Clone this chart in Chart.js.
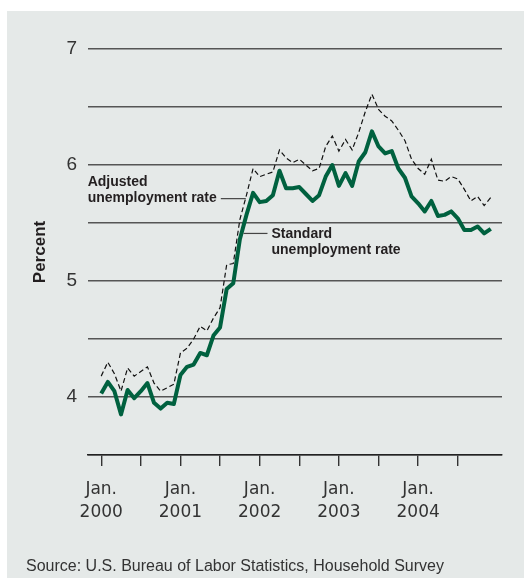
<!DOCTYPE html>
<html>
<head>
<meta charset="utf-8">
<script src="https://cdn.jsdelivr.net/npm/chart.js@4/dist/chart.umd.min.js"></script>
<style>
  html, body { margin: 0; padding: 0; background: #fff; }
  canvas { display: block; }
</style>
</head>
<body>
<canvas id="chart" width="524" height="578"></canvas>
<script>
// monthly values, Jan. 2000 .. Dec. 2004
const standardRate = [
    4.03, 4.13, 4.05, 3.85, 4.06, 3.99, 4.05, 4.12, 3.95, 3.90, 3.95, 3.94,
    4.19, 4.26, 4.28, 4.38, 4.36, 4.53, 4.60, 4.93, 4.98, 5.36, 5.57, 5.76,
    5.68, 5.69, 5.74, 5.95, 5.80, 5.80, 5.81, 5.75, 5.69, 5.74, 5.90, 6.00,
    5.82, 5.93, 5.82, 6.03, 6.11, 6.29, 6.16, 6.10, 6.12, 5.97, 5.89, 5.73,
    5.67, 5.60, 5.69, 5.56, 5.57, 5.60, 5.54, 5.44, 5.44, 5.47, 5.41, 5.45
];
const adjustedRate = [
    4.18, 4.30, 4.20, 4.05, 4.25, 4.18, 4.22, 4.26, 4.12, 4.05, 4.08, 4.11,
    4.38, 4.42, 4.50, 4.61, 4.57, 4.68, 4.77, 5.14, 5.15, 5.53, 5.74, 5.97,
    5.90, 5.92, 5.94, 6.13, 6.06, 6.02, 6.05, 6.00, 5.95, 5.97, 6.16, 6.25,
    6.12, 6.22, 6.13, 6.28, 6.46, 6.61, 6.48, 6.42, 6.38, 6.30, 6.21, 6.05,
    5.97, 5.92, 6.05, 5.87, 5.86, 5.90, 5.88, 5.79, 5.69, 5.73, 5.65, 5.72
];
const yearLabels = ["2000", "2001", "2002", "2003", "2004"];
const tickMonths = [0, 6, 12, 18, 24, 30, 36, 42, 48, 54];
const yTickLabels = [4, 5, 6, 7];
const sourceText = "Source: U.S. Bureau of Labor Statistics, Household Survey";

const FONT = "'Liberation Sans', Arial, sans-serif";
const AXIS_FONT = "'DejaVu Sans', sans-serif";
const GREEN = "#00613f";
const INK = "#231f20";

const toPoints = arr => arr.map((v, i) => ({ x: i, y: v }));

// panel background + texts outside the plot
const backdrop = {
    id: "backdrop",
    beforeDraw(chart) {
        const ctx = chart.ctx;
        ctx.save();
        ctx.fillStyle = "#ffffff";
        ctx.fillRect(0, 0, chart.width, chart.height);
        ctx.fillStyle = "#e5e9e8";
        ctx.fillRect(7, 11, chart.width - 7, chart.height - 11);
        ctx.restore();
    },
    afterDraw(chart) {
        const ctx = chart.ctx;
        const area = chart.chartArea;
        ctx.save();
        ctx.fillStyle = INK;
        ctx.font = "bold 17px " + FONT;
        ctx.textAlign = "center";
        ctx.textBaseline = "middle";
        ctx.translate(40, (area.top + area.bottom) / 2);
        ctx.rotate(-Math.PI / 2);
        ctx.fillText("Percent", 0, 0);
        ctx.restore();

        ctx.save();
        ctx.fillStyle = "#333";
        ctx.font = "16px " + FONT;
        ctx.textAlign = "left";
        ctx.textBaseline = "middle";
        ctx.fillText(sourceText, 26, 567);
        ctx.restore();
    }
};

// series labels with leader lines
const seriesLabels = {
    id: "seriesLabels",
    afterDatasetsDraw(chart) {
        const ctx = chart.ctx;
        const xs = chart.scales.x, ys = chart.scales.y;
        ctx.save();
        ctx.font = "bold 14px " + FONT;
        ctx.fillStyle = INK;
        ctx.strokeStyle = "#444";
        ctx.lineWidth = 1.2;
        ctx.textBaseline = "middle";

        // adjusted
        let px = xs.getPixelForValue(21.9), py = ys.getPixelForValue(5.71);
        ctx.beginPath();
        ctx.moveTo(px - 25, py);
        ctx.lineTo(px, py);
        ctx.stroke();
        const w = ctx.measureText("unemployment rate").width;
        const left = px - 29 - w;
        ctx.textAlign = "left";
        ctx.fillText("Adjusted", left, py - 16);
        ctx.fillText("unemployment rate", left, py);

        // standard
        px = xs.getPixelForValue(21.55);
        py = ys.getPixelForValue(5.41);
        ctx.beginPath();
        ctx.moveTo(px, py);
        ctx.lineTo(px + 24, py);
        ctx.stroke();
        ctx.fillText("Standard", px + 28, py + 1);
        ctx.fillText("unemployment rate", px + 28, py + 17);
        ctx.restore();
    }
};

new Chart(document.getElementById("chart"), {
    type: "line",
    data: {
        datasets: [
            {
                label: "Standard unemployment rate",
                data: toPoints(standardRate),
                borderColor: GREEN,
                borderWidth: 4,
                borderJoinStyle: "round",
                pointRadius: 0,
                tension: 0,
            },
            {
                label: "Adjusted unemployment rate",
                data: toPoints(adjustedRate),
                borderColor: "#111",
                borderWidth: 1.2,
                borderDash: [5, 3],
                pointRadius: 0,
                tension: 0,
            }
        ]
    },
    options: {
        responsive: false,
        animation: false,
        events: [],
        layout: { padding: { top: 49, right: 22, left: 0, bottom: 0 } },
        plugins: {
            legend: { display: false },
            tooltip: { enabled: false },
            title: { display: false }
        },
        scales: {
            x: {
                type: "linear",
                min: -2,
                max: 60.7,
                afterFit: s => { s.height = 123; },
                afterBuildTicks: s => { s.ticks = tickMonths.map(v => ({ value: v })); },
                border: { display: true, color: "#222", width: 1.6 },
                grid: {
                    drawOnChartArea: false,
                    drawTicks: true,
                    tickLength: 11,
                    color: "#333",
                    lineWidth: 1.4
                },
                ticks: {
                    autoSkip: false,
                    maxRotation: 0,
                    padding: 13,
                    color: "#333",
                    font: { family: AXIS_FONT, size: 17, lineHeight: 1.3 },
                    callback: v => (v % 12 === 0 ? ["Jan.", yearLabels[v / 12]] : "")
                }
            },
            y: {
                min: 3.5,
                max: 7,
                afterFit: s => { s.width = 88; },
                border: { display: false },
                grid: {
                    drawTicks: false,
                    color: "#555",
                    lineWidth: 1.5
                },
                ticks: {
                    stepSize: 0.5,
                    padding: 11,
                    color: "#333",
                    font: { family: FONT, size: 19 },
                    callback: v => (yTickLabels.includes(v) ? String(v) : "")
                }
            }
        }
    },
    plugins: [backdrop, seriesLabels]
});
</script>
</body>
</html>
